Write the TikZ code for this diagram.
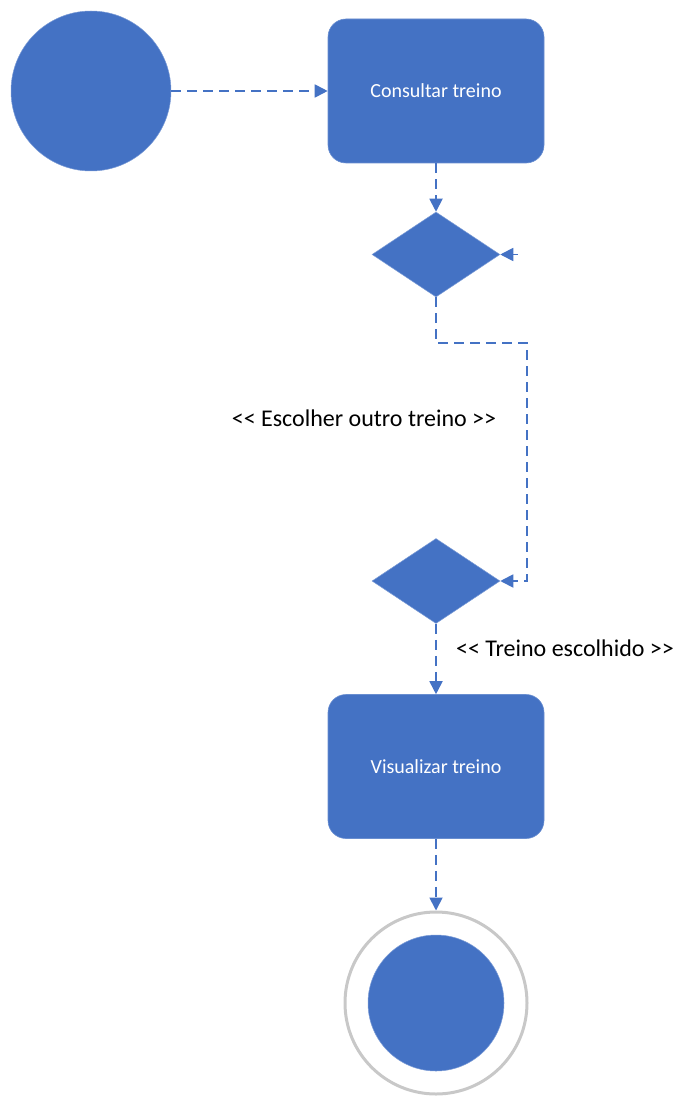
\documentclass[tikz,border=0pt]{standalone}
\usepackage{fontspec}
\setmainfont{Carlito}
\usetikzlibrary{shapes.geometric,arrows.meta}
\definecolor{uml}{HTML}{4472C4}
\definecolor{ring}{HTML}{C8C8C8}
\newcommand{\ltlt}{<\kern0pt<}
\newcommand{\gtgt}{>\kern0pt>}
\tikzset{
  x=1pt,y=-1pt,
  act/.style={draw=uml!80!white,line width=0.6pt,fill=uml,rounded corners=18pt,minimum width=216pt,minimum height=144pt,text=white,font=\fontsize{20}{22}\selectfont,inner sep=0pt},
  dec/.style={diamond,draw=uml!70!white,fill=uml,line width=0.5pt,minimum width=128pt,minimum height=85pt,aspect=1.5,inner sep=0pt},
  flow/.style={draw=uml,line width=1.8pt,dash pattern=on 10pt off 6pt,-{Triangle[length=13pt,width=13pt]}},
  lbl/.style={font=\fontsize{24}{26}\selectfont,text=black,inner sep=0pt}
}
\begin{document}
\begin{tikzpicture}
\useasboundingbox (0,0) rectangle (697,1107);
\node[circle,fill=uml,draw=uml!70!white,line width=0.5pt,minimum size=160pt,inner sep=0pt] (start) at (91,91) {};
\node[act] (consult) at (436,91) {Consultar treino};
\node[dec] (d1) at (436,254.5) {};
\node[dec] (d2) at (436,581) {};
\node[act] (visual) at (436,766.5) {Visualizar treino};
\node[circle,draw=ring,line width=3pt,fill=white,minimum size=182pt,inner sep=0pt] (endo) at (436,1003) {};
\node[circle,fill=uml,draw=uml!70!white,line width=0.5pt,minimum size=136pt,inner sep=0pt] (endi) at (436,1003) {};
\coordinate (stub) at (518,254.5);
\coordinate (c1) at (436,343);
\coordinate (c2) at (527,343);
\coordinate (c3) at (527,581);
\draw[flow] (start) -- (consult);
\draw[flow] (consult) -- (d1);
\draw[flow] (stub) -- (d1.east);
\draw[flow] (d1.south) -- (c1) -- (c2) -- (c3) -- (d2.east);
\draw[flow] (d2) -- (visual);
\draw[flow] (visual) -- (endo.north);
\node[lbl] (l1) at (364,418) {\ltlt{} Escolher outro treino \gtgt};
\node[lbl] (l2) at (565,648) {\ltlt{} Treino escolhido \gtgt};
\end{tikzpicture}
\end{document}
